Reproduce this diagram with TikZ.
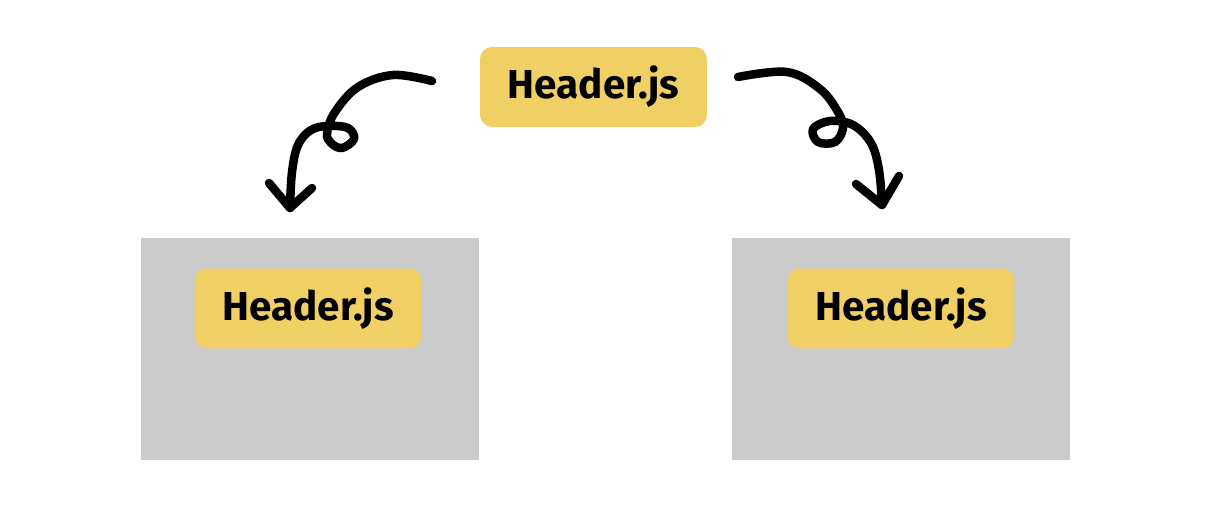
\documentclass[tikz,border=0pt]{standalone}
\usepackage{fontspec}
\setmainfont{Fira Sans}
\definecolor{fileyellow}{HTML}{F0CF65}
\definecolor{pagegray}{HTML}{CBCBCB}
\tikzset{
	file/.style={fill=fileyellow, rounded corners=0.24cm, minimum width=4.54cm, minimum height=1.6cm, inner sep=0pt, font=\fontsize{23}{26}\selectfont\bfseries},
	page/.style={fill=pagegray, minimum width=6.76cm, minimum height=4.44cm, inner sep=0pt},
	scribble/.style={line width=0.17cm, line cap=round, line join=round}
}

\begin{document}
\begin{tikzpicture}[x=0.02cm, y=-0.02cm]
	\useasboundingbox (0,0) rectangle (1213,517);

	\node[page] (p1) at (310,349) {};
	\node[page] (p2) at (901,349) {};

	\node[file] (top) at (593.5,87) {Header.js};
	\node[file] (f1) at (308,308.5) {Header.js};
	\node[file] (f2) at (901,308.5) {Header.js};

	% left arrow
	\coordinate (l0) at (432,81);
	\coordinate (l1) at (290,208);
	\draw[scribble] plot[smooth, tension=0.6] coordinates {(l0) (393,75) (358,87) (335,112) (327,133) (331,143) (342,148) (354,139) (348,128) (328,126) (311,130) (298,145) (292,172) (l1)};
	\draw[scribble] (269,183) -- (l1) -- (312,188);

	% right arrow
	\coordinate (r0) at (738,77);
	\coordinate (r1) at (882,205);
	\draw[scribble] plot[smooth, tension=0.6] coordinates {(r0) (787,72) (820,89) (838,112) (843,128) (835,142) (818,142) (813,129) (830,121) (853,125) (871,143) (879,170) (r1)};
	\draw[scribble] (856,184) -- (r1) -- (899,176);
\end{tikzpicture}
\end{document}
